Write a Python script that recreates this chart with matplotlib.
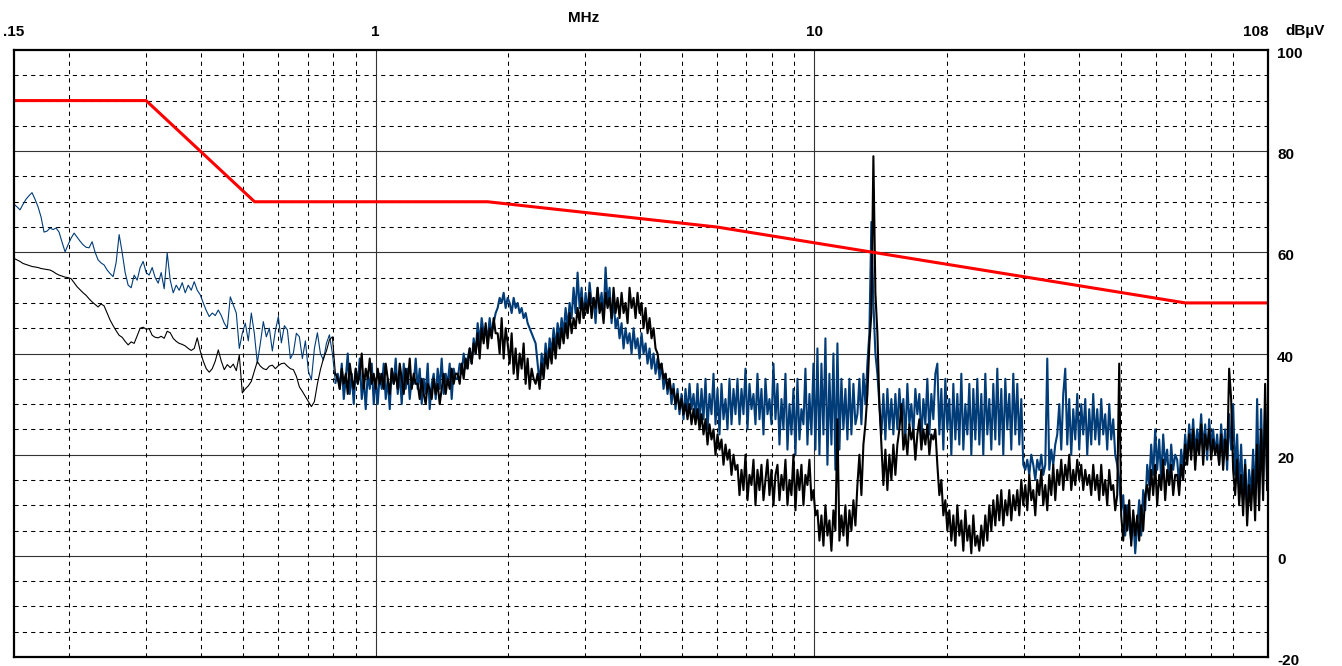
import numpy as np
import matplotlib
matplotlib.use('Agg')
import matplotlib.pyplot as plt
from matplotlib.transforms import ScaledTranslation

plt.rcParams['font.family'] = ['Liberation Sans', 'DejaVu Sans']

# limit line (red)
limit_f = [0.15, 0.3, 0.53, 1.8, 6.0, 70.0, 108.0]
limit_db = [90, 90, 70, 70, 65, 50, 50]

# low band 0.15 - 0.81 MHz
blue_a = [
    69.5, 69.0, 68.4, 69.5, 70.5, 71.2, 71.8, 70.5, 69.0, 67.0, 64.0, 64.2,
    64.8, 64.5, 64.8, 64.0, 62.0, 60.1, 61.5, 62.8, 63.8, 63.0, 62.2, 61.5,
    61.0, 60.9, 62.1, 60.0, 58.5, 57.9, 57.5, 56.5, 55.8, 55.2, 58.0, 63.5,
    60.0, 56.0, 53.5, 53.0, 55.5, 54.5, 57.0, 58.2, 56.0, 55.5, 57.0, 55.0,
    53.9, 56.0, 52.8, 59.9, 54.5, 52.0, 53.5, 52.5, 54.0, 52.0, 53.5, 52.5,
    54.2, 52.5, 51.6, 50.0, 48.5, 47.3, 48.0, 47.5, 48.6, 47.5, 46.0, 45.0,
    51.2, 49.6, 48.0, 41.0, 44.0, 46.0, 42.5, 48.0, 44.0, 38.1, 42.0, 46.3,
    43.3, 45.0, 40.5, 44.5, 47.3, 42.1, 45.5, 44.7, 39.0, 40.1, 44.0, 43.3,
    39.0, 42.5, 36.5, 34.8, 41.0, 44.1, 40.0, 38.7, 42.0, 43.7, 40.0, 34.2,
]
black_a = [
    58.8, 58.5, 58.2, 57.8, 57.6, 57.4, 57.2, 57.1, 57.0, 56.8, 56.7, 56.6,
    56.5, 56.2, 55.8, 55.5, 55.3, 55.1, 55.0, 54.8, 54.0, 53.2, 52.6, 52.0,
    51.5, 50.8, 50.2, 49.7, 49.2, 49.8, 49.4, 48.0, 46.6, 45.5, 44.5, 43.6,
    43.2, 42.4, 41.7, 42.3, 42.0, 43.5, 45.0, 45.2, 44.8, 44.9, 43.6, 43.2,
    43.1, 43.4, 43.0, 44.4, 44.1, 43.0, 42.4, 42.0, 41.8, 41.5, 41.0, 40.6,
    41.0, 43.1, 40.5, 38.5, 37.0, 36.3, 37.0, 38.5, 40.7, 38.5, 36.8, 37.8,
    37.2, 37.9, 36.6, 39.7, 32.2, 33.0, 33.6, 34.5, 36.5, 38.4, 37.5, 37.0,
    36.8, 37.5, 37.7, 37.0, 37.6, 38.0, 38.1, 37.5, 37.0, 36.8, 35.5, 33.4,
    32.5, 31.5, 30.5, 29.5, 30.5, 34.0, 36.8, 39.0, 40.5, 42.7, 43.3, 36.0,
]

# high band 0.82 - 107.5 MHz
blue_b = [
    36, 33, 38, 31, 35, 40, 32, 36, 30, 37, 34, 39, 31, 35, 29, 36, 33, 38, 30, 35,
    30, 36, 33, 38, 31, 35, 29, 37, 34, 39, 32, 36, 30, 38, 33, 37, 31, 35, 34, 39,
    33, 37, 30, 35, 32, 38, 29, 34, 36, 31, 37, 33, 39, 32, 36, 34, 38, 31, 37, 35,
    35, 38, 36, 40, 37, 39, 41, 38, 43, 40, 46, 42, 47, 44, 45, 43, 47, 44, 46, 48,
    49, 51, 50, 52, 49, 51, 50, 48, 51, 49, 50, 48, 49, 47, 48, 46, 45, 44, 43, 42,
    38, 34, 40, 37, 42, 38, 43, 40, 45, 41, 46, 43, 47, 44, 49, 45, 50, 47, 53, 48,
    56, 49, 53, 47, 52, 48, 54, 50, 51, 46, 53, 49, 52, 47, 57, 50, 53, 46, 51, 45,
    47, 43, 46, 41, 45, 42, 44, 40, 45, 41, 43, 39, 44, 40, 42, 38, 41, 37, 40, 36,
    39, 35, 38, 33, 36, 32, 35, 30, 34, 29, 33, 28, 32, 27, 33, 28, 34, 29, 32, 27,
    34, 26, 33, 27, 35, 25, 32, 28, 36, 26, 33, 24, 34, 27, 31, 25, 35, 26, 33, 28,
    35, 26, 33, 28, 37, 25, 34, 29, 32, 26, 36, 27, 33, 24, 35, 28, 31, 26, 38, 27,
    34, 22, 31, 25, 36, 21, 30, 24, 33, 20, 35, 23, 29, 26, 37, 22, 32, 24, 38, 21,
    41, 20, 38, 24, 43, 18, 36, 22, 40, 17, 42, 21, 35, 25, 33, 23, 35, 24, 34, 26,
    28, 35, 26, 36, 30, 38, 44, 66, 50, 40, 36, 30, 24, 32, 23, 33, 25, 31, 24, 32,
    25, 33, 27, 31, 23, 34, 26, 30, 24, 33, 28, 32, 23, 31, 26, 35, 24, 32, 27, 36,
    38, 24, 33, 21, 35, 25, 31, 20, 34, 23, 32, 22, 36, 21, 30, 24, 34, 20, 33, 23,
    35, 22, 32, 20, 36, 24, 31, 21, 34, 23, 37, 22, 33, 20, 35, 25, 32, 21, 36, 24,
    34, 22, 31, 18, 17, 19, 16, 20, 18, 15, 19, 17, 20, 16, 18, 39, 17, 21, 18, 22,
    24, 30, 21, 32, 37, 22, 31, 20, 29, 23, 32, 21, 30, 24, 31, 20, 29, 22, 32, 23,
    29, 22, 31, 24, 28, 21, 30, 23, 27, 20, 18, 15, 9, 12, 4, 10, 6, 3, 8, 0.5,
    6, 11, 4, 13, 9, 18, 14, 22, 16, 25, 17, 23, 15, 24, 18, 21, 14, 22, 17, 20,
    19, 14, 21, 17, 24, 19, 26, 21, 27, 20, 25, 22, 28, 21, 26, 19, 27, 22, 25, 20,
    24, 18, 26, 20, 25, 17, 28, 21, 30, 16, 24, 13, 22, 11, 19, 9, 17, 12, 21, 10,
    31, 12, 29, 14, 30, 16,
]
black_b = [
    35, 33, 37, 34, 36, 32, 38, 35, 33, 37, 34, 36, 40, 33, 37, 35, 39, 34, 36, 33,
    37, 34, 36, 33, 38, 35, 32, 37, 34, 36, 33, 38, 35, 32, 37, 34, 39, 33, 36, 34,
    34, 31, 35, 32, 30, 34, 33, 31, 35, 32, 34, 30, 33, 36, 32, 35, 33, 37, 34, 36,
    36, 34, 38, 35, 39, 37, 41, 38, 42, 40, 44, 39, 45, 42, 46, 41, 45, 43, 47, 44,
    44, 40, 47, 39, 45, 42, 38, 44, 36, 41, 35, 40, 37, 42, 34, 39, 33, 37, 35, 34,
    36, 33, 38, 35, 40, 37, 41, 38, 43, 39, 44, 41, 45, 42, 46, 43, 48, 44, 47, 45,
    49, 46, 51, 47, 50, 48, 52, 47, 51, 49, 53, 48, 50, 46, 52, 49, 51, 47, 53, 48,
    51, 47, 52, 48, 50, 46, 53, 49, 51, 47, 52, 48, 50, 45, 49, 44, 47, 43, 45, 41,
    40, 37, 38, 35, 36, 33, 35, 32, 33, 30, 32, 29, 31, 28, 30, 27, 30, 26, 29, 26,
    29, 25, 28, 24, 27, 22, 26, 23, 25, 20, 24, 21, 23, 18, 22, 19, 21, 16, 20, 17,
    18, 12, 17, 13, 20, 11, 16, 14, 19, 10, 17, 13, 18, 11, 15, 19, 12, 17, 10, 16,
    18, 11, 16, 13, 19, 10, 15, 12, 20, 9, 17, 13, 18, 10, 16, 14, 19, 11, 13, 8,
    9, 3, 8, 2, 10, 4, 7, 1, 9, 5, 27, 3, 8, 4, 10, 2, 9, 5, 11, 6,
    14, 20, 12, 22, 26, 32, 42, 48, 79, 52, 44, 30, 22, 14, 21, 13, 20, 15, 22, 16,
    22, 25, 30, 21, 24, 20, 26, 23, 25, 19, 24, 27, 21, 25, 22, 26, 20, 24, 23, 25,
    18, 12, 15, 8, 11, 5, 9, 3, 8, 2, 10, 4, 7, 1, 9, 3, 6, 0.5, 8, 2,
    4, 1, 6, 2, 8, 3, 10, 5, 11, 6, 12, 7, 13, 6, 11, 8, 13, 7, 12, 9,
    13, 8, 15, 10, 14, 9, 16, 11, 13, 8, 15, 12, 17, 10, 14, 9, 16, 12, 18, 11,
    17, 14, 19, 13, 18, 15, 20, 13, 17, 14, 19, 15, 18, 13, 17, 14, 16, 12, 18, 13,
    16, 11, 18, 12, 15, 10, 17, 13, 14, 9, 12, 38, 8, 3, 10, 5, 11, 2, 9, 4,
    8, 3, 10, 5, 12, 14, 11, 17, 12, 18, 10, 16, 13, 19, 11, 17, 14, 18, 12, 16,
    16, 12, 18, 15, 22, 18, 24, 19, 25, 17, 23, 20, 26, 18, 24, 21, 25, 19, 23, 20,
    22, 18, 24, 17, 23, 19, 37, 31, 17, 12, 19, 10, 16, 8, 18, 6, 14, 9, 17, 7,
    22, 9, 25, 11, 34, 13,
]

x_labels = ['.15', '1', '10', '108']
x_label_pos = [0.15, 1, 10, 108]
y_ticks = [-20, 0, 20, 40, 60, 80, 100]

fa_blue = np.geomspace(0.15, 0.81, len(blue_a))
fa_black = np.geomspace(0.15, 0.81, len(black_a))
fb_blue = np.geomspace(0.82, 107.5, len(blue_b))
fb_black = np.geomspace(0.82, 107.5, len(black_b))

blue = '#003C78'

fig = plt.figure(figsize=(13.42, 6.66), dpi=100)
ax = fig.add_axes([14 / 1342, 1 - 657 / 666, 1254 / 1342, 607 / 666])
ax.set_xscale('log')
ax.set_xlim(0.15, 108)
ax.set_ylim(-20, 100)

# grid
for v in range(-15, 100, 5):
    if v % 20 == 0:
        ax.axhline(v, color='#333333', lw=0.8, zorder=1)
    else:
        ax.axhline(v, color='black', lw=0.75, ls=(0, (4, 4)), zorder=1)
for dec in [0.1, 1, 10]:
    for m in range(1, 10):
        f = m * dec
        if f <= 0.15 or f >= 108:
            continue
        if m == 1:
            ax.axvline(f, color='#333333', lw=0.8, zorder=1)
        else:
            ax.axvline(f, color='black', lw=0.75, ls=(0, (4, 4)), zorder=1)

ax.plot(fa_blue, blue_a, color=blue, lw=0.8, zorder=2)
ax.plot(np.r_[fa_blue[-1:], fb_blue], np.r_[blue_a[-1:], blue_b], color=blue, lw=1.5, zorder=2)
ax.plot(fa_black, black_a, color='black', lw=0.8, zorder=3)
ax.plot(np.r_[fa_black[-1:], fb_black], np.r_[black_a[-1:], black_b], color='black', lw=1.5, zorder=3)
ax.plot(limit_f, limit_db, color='#FF0000', lw=2.2, zorder=4)

ax.minorticks_off()
ax.xaxis.tick_top()
ax.set_xticks(x_label_pos)
ax.set_xticklabels(x_labels, fontsize=11, fontweight='bold')
ax.get_xticklabels()[-1].set_horizontalalignment('right')
ax.tick_params(axis='x', length=0, pad=8)
ax.set_yticks([])

# right-hand dB labels, just below their grid line
ylab_tr = ax.get_yaxis_transform() + ScaledTranslation(0, -4 / 100, fig.dpi_scale_trans)
for t in y_ticks:
    ax.text(1.0072, t, str(t), transform=ylab_tr, ha='left', va='center',
            fontsize=11, fontweight='bold', clip_on=False)

for s in ax.spines.values():
    s.set_linewidth(1.6)
    s.set_zorder(5)

ax.text(0.4545, 1.053, 'MHz', transform=ax.transAxes, ha='center', va='center',
        fontsize=11, fontweight='bold')
ax.text(1.0136, 1.032, 'dBµV', transform=ax.transAxes, ha='left', va='center',
        fontsize=11, fontweight='bold')

plt.savefig('out.png', dpi=100)
